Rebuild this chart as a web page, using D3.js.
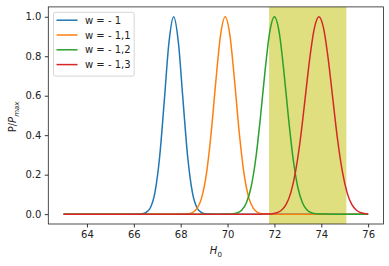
<!DOCTYPE html>
<html>
<head>
<meta charset="utf-8">
<script src="https://cdn.jsdelivr.net/npm/d3@7"></script>
<style>
  body { margin: 0; background: #fff; }
  svg { font-family: "DejaVu Sans", sans-serif; }
</style>
</head>
<body>
<div id="chart"></div>
<script>
// Data
const seriesNames = ["w = - 1", "w = - 1,1", "w = - 1,2", "w = - 1,3"];
const colors = ["#1f77b4", "#ff7f0e", "#2ca02c", "#d62728"];

const h0Blue = [63, 65.9, 66.1, 66.3, 66.5, 66.7, 66.9, 67.1, 67.3, 67.5, 67.7, 67.9, 68.1, 68.3, 68.5, 68.7, 68.9, 69.1, 69.3, 69.5, 76];
const pBlue  = [0, 0, 0.0001, 0.0011, 0.0068, 0.031, 0.109, 0.288, 0.575, 0.871, 1, 0.871, 0.575, 0.288, 0.109, 0.031, 0.0068, 0.0011, 0.0001, 0, 0];

const h0Orange = [63, 67.7, 67.9, 68.1, 68.3, 68.5, 68.7, 68.9, 69.1, 69.3, 69.5, 69.7, 69.9, 70.1, 70.3, 70.5, 70.7, 70.9, 71.1, 71.3, 71.5, 71.7, 71.9, 72.1, 76];
const pOrange  = [0, 0, 0.0001, 0.0003, 0.0018, 0.0079, 0.029, 0.085, 0.206, 0.411, 0.674, 0.906, 1, 0.906, 0.674, 0.411, 0.206, 0.085, 0.029, 0.0079, 0.0018, 0.0003, 0.0001, 0, 0];

const h0Green = [63, 69.6, 69.8, 70.0, 70.2, 70.4, 70.6, 70.8, 71.0, 71.2, 71.4, 71.6, 71.8, 72.0, 72.2, 72.4, 72.6, 72.8, 73.0, 73.2, 73.4, 73.6, 73.8, 74.0, 74.2, 74.4, 76];
const pGreen  = [0, 0, 0.0001, 0.0003, 0.0015, 0.006, 0.0198, 0.0561, 0.135, 0.278, 0.487, 0.726, 0.923, 1, 0.923, 0.726, 0.487, 0.278, 0.135, 0.0561, 0.0198, 0.006, 0.0015, 0.0003, 0.0001, 0, 0];

const h0Red = [63, 71.3, 71.5, 71.7, 71.9, 72.1, 72.3, 72.5, 72.7, 72.9, 73.1, 73.3, 73.5, 73.7, 73.9, 74.1, 74.3, 74.5, 74.7, 74.9, 75.1, 75.3, 75.5, 75.7, 75.9, 76];
const pRed  = [0, 0, 0.0001, 0.0006, 0.0021, 0.0068, 0.0194, 0.049, 0.109, 0.215, 0.373, 0.575, 0.782, 0.94, 1, 0.94, 0.782, 0.575, 0.373, 0.215, 0.109, 0.049, 0.0194, 0.0068, 0.0021, 0.0011];

const bandRange = [71.77, 75.07];
const xTicks = [64, 66, 68, 70, 72, 74, 76];
const yTicks = [0, 0.2, 0.4, 0.6, 0.8, 1.0];

const seriesX = [h0Blue, h0Orange, h0Green, h0Red];
const seriesY = [pBlue, pOrange, pGreen, pRed];

// Dimensions
const width = 389, height = 266;
const plot = { left: 48.3, right: 383.4, top: 6.9, bottom: 224 };

const svg = d3.select("#chart").append("svg")
  .attr("width", width)
  .attr("height", height);

const xScale = d3.scaleLinear().domain([62.35, 76.65]).range([plot.left, plot.right]);
const yScale = d3.scaleLinear().domain([-0.05, 1.05]).range([plot.bottom, plot.top]);

// shaded band
svg.append("rect")
  .attr("x", xScale(bandRange[0]))
  .attr("y", plot.top)
  .attr("width", xScale(bandRange[1]) - xScale(bandRange[0]))
  .attr("height", plot.bottom - plot.top)
  .attr("fill", "#dfdf80");

const line = d3.line()
  .x(d => xScale(d[0]))
  .y(d => yScale(d[1]))
  .curve(d3.curveMonotoneX);

seriesX.forEach((xs, i) => {
  const pts = xs.map((x, j) => [x, seriesY[i][j]]);
  svg.append("path")
    .datum(pts)
    .attr("d", line)
    .attr("fill", "none")
    .attr("stroke", colors[i])
    .attr("stroke-width", 1.5);
});

// Axes
const xAxis = d3.axisBottom(xScale).tickValues(xTicks).tickSize(3.5).tickPadding(3.5).tickFormat(d3.format("d"));
const yAxis = d3.axisLeft(yScale).tickValues(yTicks).tickSize(3.5).tickPadding(3.5).tickFormat(d3.format(".1f"));

const gx = svg.append("g").attr("transform", `translate(0,${plot.bottom})`).call(xAxis);
const gy = svg.append("g").attr("transform", `translate(${plot.left},0)`).call(yAxis);
[gx, gy].forEach(g => {
  g.select(".domain").remove();
  g.selectAll("line").attr("stroke", "#000").attr("stroke-width", 0.8);
  g.selectAll("text").attr("fill", "#222").style("font-size", "10px").style("font-family", "DejaVu Sans");
});

// frame
svg.append("rect")
  .attr("x", plot.left).attr("y", plot.top)
  .attr("width", plot.right - plot.left).attr("height", plot.bottom - plot.top)
  .attr("fill", "none").attr("stroke", "#222").attr("stroke-width", 0.8);

// labels
const xl = svg.append("text")
  .attr("x", (plot.left + plot.right) / 2)
  .attr("y", 254)
  .attr("text-anchor", "middle")
  .style("font-size", "10px")
  .attr("fill", "#222");
xl.append("tspan").style("font-style", "italic").text("H");
xl.append("tspan").attr("dy", 2.5).style("font-size", "7px").text("0");

const yl = svg.append("text")
  .attr("transform", `translate(16,${(plot.top + plot.bottom) / 2 + 1.5}) rotate(-90)`)
  .attr("text-anchor", "middle")
  .style("font-size", "10px")
  .attr("fill", "#222");
yl.append("tspan").text("P/");
yl.append("tspan").style("font-style", "italic").text("P");
yl.append("tspan").attr("dy", 2.5).style("font-size", "7px").style("font-style", "italic").text("max");

// legend
const legend = svg.append("g");
legend.append("rect")
  .attr("x", 53.5).attr("y", 12.3)
  .attr("width", 80.7).attr("height", 63.8)
  .attr("rx", 2)
  .attr("fill", "#fff").attr("fill-opacity", 0.8)
  .attr("stroke", "#ccc").attr("stroke-width", 0.8);

seriesNames.forEach((name, i) => {
  const y = 20.2 + i * 14.8;
  legend.append("line")
    .attr("x1", 56.5).attr("x2", 77.5)
    .attr("y1", y).attr("y2", y)
    .attr("stroke", colors[i]).attr("stroke-width", 1.5);
  legend.append("text")
    .attr("x", 85).attr("y", y + 3.6)
    .style("font-size", "10px")
    .attr("fill", "#222")
    .text(name);
});
</script>
</body>
</html>
